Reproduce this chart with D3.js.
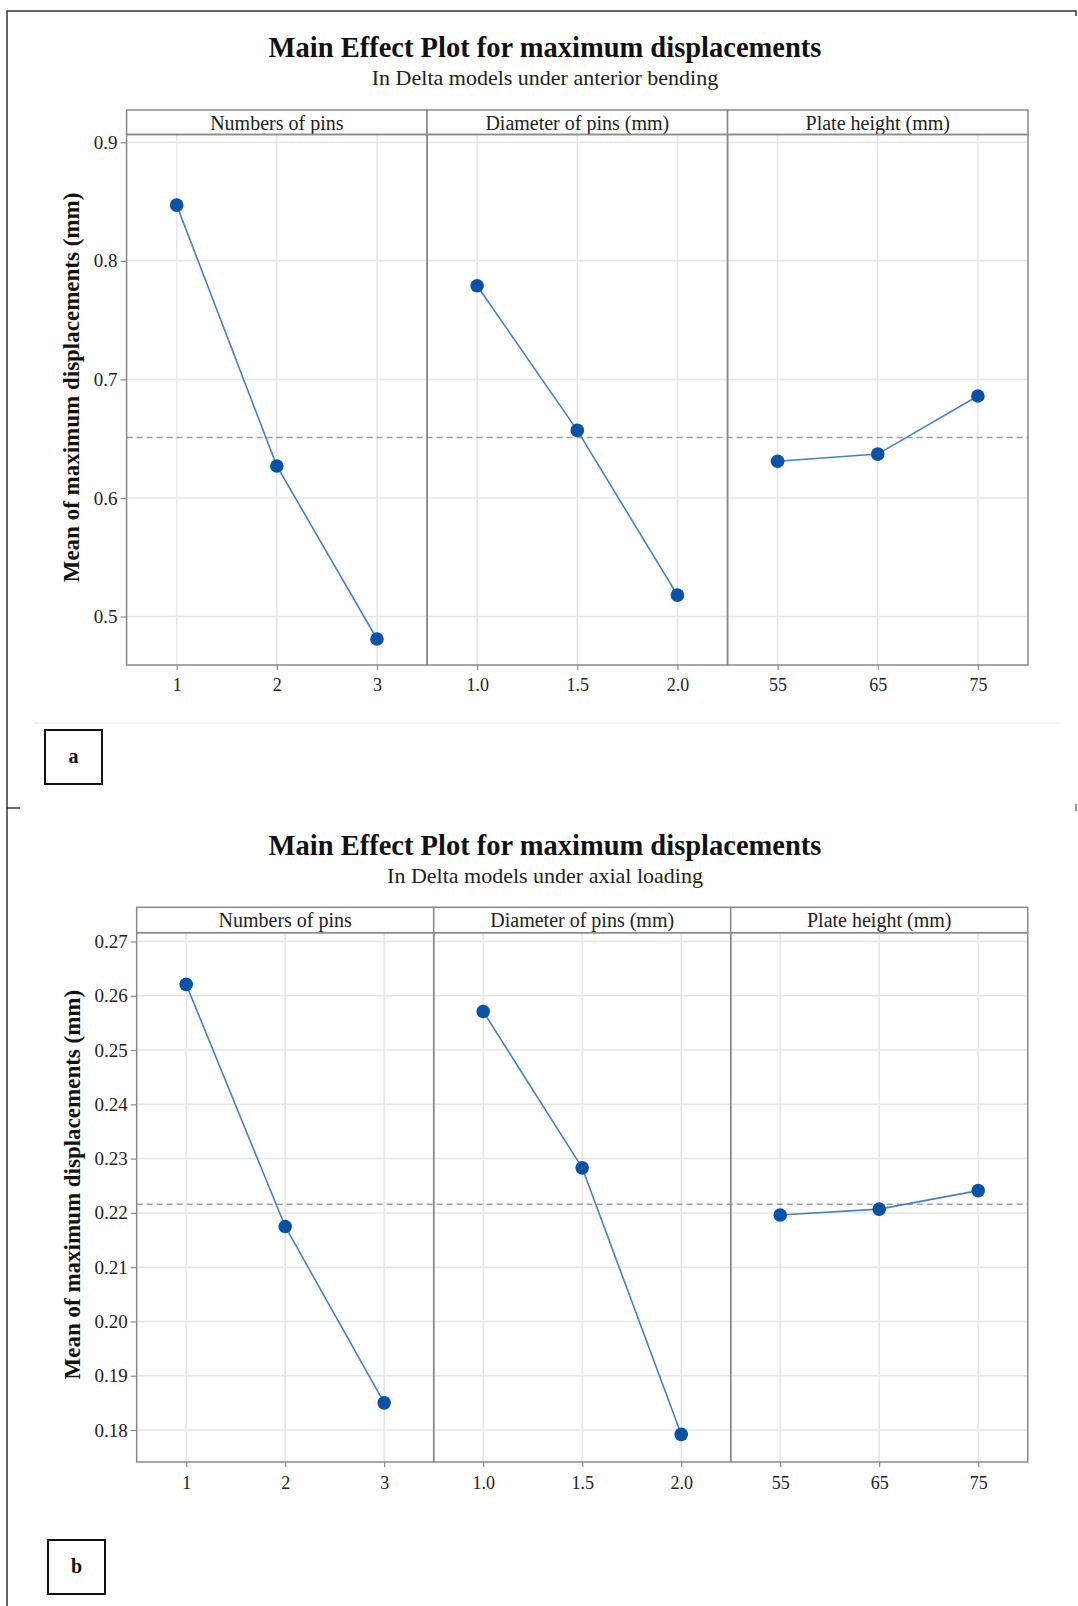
<!DOCTYPE html>
<html>
<head>
<meta charset="utf-8">
<script src="https://cdn.jsdelivr.net/npm/d3@7"></script>
<style>
body { margin: 0; background: #fff; }
svg text { font-family: "Liberation Serif", "Times New Roman", serif; fill: #222; }
</style>
</head>
<body>
<div id="vis"></div>
<script>
var factors = ["Numbers of pins", "Diameter of pins (mm)", "Plate height (mm)"];
var pinLevels = ["1", "2", "3"];
var diameterLevels = ["1.0", "1.5", "2.0"];
var heightLevels = ["55", "65", "75"];

// a: anterior bending
var bendPins = [0.847, 0.627, 0.481];
var bendDiameter = [0.779, 0.657, 0.518];
var bendHeight = [0.631, 0.637, 0.686];
var bendMean = 0.651;
var bendTicks = [0.5, 0.6, 0.7, 0.8, 0.9];

// b: axial loading
var axialPins = [0.2621, 0.2175, 0.1850];
var axialDiameter = [0.2571, 0.2283, 0.1792];
var axialHeight = [0.2196, 0.2207, 0.2241];
var axialMean = 0.2216;
var axialTicks = [0.18, 0.19, 0.20, 0.21, 0.22, 0.23, 0.24, 0.25, 0.26, 0.27];

var width = 1078,
    height = 1606;

var serif = "'Liberation Serif', 'Times New Roman', serif";

var dotColor = "#0a52a6",
    lineColor = "#4580c8",
    frameColor = "#8a8a8a",
    gridColor = "#e6e6e6";

var svg = d3.select("#vis")
    .append("svg")
    .attr("width", width)
    .attr("height", height);

// page frame around both figures
svg.append("path")
    .attr("d", "M7," + height + "V11H1076V16")
    .attr("fill", "none")
    .attr("stroke", "#333")
    .attr("stroke-width", 1.5);

svg.append("line")
    .attr("x1", 7).attr("x2", 20)
    .attr("y1", 808).attr("y2", 808)
    .attr("stroke", "#333")
    .attr("stroke-width", 1.5);

svg.append("line")
    .attr("x1", 1076).attr("x2", 1076)
    .attr("y1", 804).attr("y2", 811)
    .attr("stroke", "#333")
    .attr("stroke-width", 1);

// faint bottom edge of figure a
svg.append("line")
    .attr("x1", 34).attr("x2", 1060)
    .attr("y1", 723).attr("y2", 723)
    .attr("stroke", "#f1f1f1")
    .attr("stroke-width", 1.5);

function drawChart(c) {
    var g = svg.append("g");

    var panel = d3.scaleBand()
        .domain(factors)
        .range([c.left, c.right]);

    var y = d3.scaleLinear()
        .domain([c.ticks[0], c.ticks[c.ticks.length - 1]])
        .range([c.yLow, c.yHigh]);

    g.append("text")
        .attr("x", 545)
        .attr("y", c.titleY)
        .attr("text-anchor", "middle")
        .style("font-size", "28.5px")
        .style("font-weight", "bold")
        .style("fill", "#111")
        .text("Main Effect Plot for maximum displacements");

    g.append("text")
        .attr("x", 545)
        .attr("y", c.subY)
        .attr("text-anchor", "middle")
        .style("font-size", "22px")
        .text(c.subtitle);

    var levels = [pinLevels, diameterLevels, heightLevels];

    factors.forEach(function(f, i) {
        var x0 = panel(f),
            x1 = x0 + panel.bandwidth();

        var x = d3.scalePoint()
            .domain(levels[i])
            .range([x0, x1])
            .padding(0.5);

        var p = g.append("g");

        // grid
        p.selectAll(".hgrid")
            .data(c.ticks)
            .enter()
            .append("line")
            .attr("x1", x0)
            .attr("x2", x1)
            .attr("y1", function(d) { return y(d); })
            .attr("y2", function(d) { return y(d); })
            .attr("stroke", gridColor)
            .attr("stroke-width", 1.5);

        p.selectAll(".vgrid")
            .data(levels[i])
            .enter()
            .append("line")
            .attr("x1", function(d) { return x(d); })
            .attr("x2", function(d) { return x(d); })
            .attr("y1", c.plotTop)
            .attr("y2", c.bottom)
            .attr("stroke", gridColor)
            .attr("stroke-width", 1.5);

        // x axis
        var xa = p.append("g")
            .attr("transform", "translate(0," + c.bottom + ")")
            .call(d3.axisBottom(x).tickSize(5).tickPadding(c.xPad));
        xa.attr("font-size", 18).attr("font-family", serif);
        xa.select(".domain").remove();
        xa.selectAll("line").attr("stroke", frameColor).attr("stroke-width", 1.2);
        xa.selectAll("text")
            .style("font-size", "18px")
            .attr("fill", "#2a2a2a");

        // strip
        p.append("rect")
            .attr("x", x0)
            .attr("y", c.stripTop)
            .attr("width", panel.bandwidth())
            .attr("height", c.plotTop - c.stripTop)
            .attr("fill", "#fff")
            .attr("stroke", frameColor)
            .attr("stroke-width", 1.5);

        p.append("text")
            .attr("x", (x0 + x1) / 2)
            .attr("y", c.stripTop + 19.5)
            .attr("text-anchor", "middle")
            .style("font-size", "20px")
            .text(f);
    });

    // overall mean
    g.append("line")
        .attr("x1", c.left)
        .attr("x2", c.right)
        .attr("y1", y(c.mean))
        .attr("y2", y(c.mean))
        .attr("stroke", "#a0a0a0")
        .attr("stroke-width", 1.5)
        .attr("stroke-dasharray", "6,4");

    // panel borders
    factors.forEach(function(f) {
        g.append("rect")
            .attr("x", panel(f))
            .attr("y", c.plotTop)
            .attr("width", panel.bandwidth())
            .attr("height", c.bottom - c.plotTop)
            .attr("fill", "none")
            .attr("stroke", frameColor)
            .attr("stroke-width", 1.5);
    });

    // effects
    factors.forEach(function(f, i) {
        var x = d3.scalePoint()
            .domain(levels[i])
            .range([panel(f), panel(f) + panel.bandwidth()])
            .padding(0.5);

        var pts = levels[i].map(function(l, j) {
            return { level: l, value: c.values[i][j] };
        });

        g.append("path")
            .datum(pts)
            .attr("d", d3.line()
                .x(function(d) { return x(d.level); })
                .y(function(d) { return y(d.value); }))
            .attr("fill", "none")
            .attr("stroke", lineColor)
            .attr("stroke-width", 1.6);

        g.selectAll(".dot" + i)
            .data(pts)
            .enter()
            .append("circle")
            .attr("cx", function(d) { return x(d.level); })
            .attr("cy", function(d) { return y(d.value); })
            .attr("r", 6.8)
            .attr("fill", dotColor);
    });

    // y axis
    var ya = g.append("g")
        .attr("transform", "translate(" + c.left + ",0)")
        .call(d3.axisLeft(y)
            .tickValues(c.ticks)
            .tickFormat(d3.format(c.fmt))
            .tickSize(6)
            .tickPadding(3));
    ya.attr("font-size", 19).attr("font-family", serif);
    ya.select(".domain").remove();
    ya.selectAll("line").attr("stroke", frameColor).attr("stroke-width", 1.2);
    ya.selectAll("text")
        .style("font-size", "19px")
        .attr("fill", "#2a2a2a");

    g.append("text")
        .attr("transform", "translate(" + c.labelX + "," + ((c.stripTop + c.bottom) / 2) + ") rotate(-90)")
        .attr("text-anchor", "middle")
        .style("font-size", "23px")
        .style("font-weight", "bold")
        .style("fill", "#111")
        .text("Mean of maximum displacements (mm)");

    // figure tag
    g.append("rect")
        .attr("x", c.tag[0])
        .attr("y", c.tag[1])
        .attr("width", 57)
        .attr("height", 54)
        .attr("fill", "#fff")
        .attr("stroke", "#111")
        .attr("stroke-width", 2);

    g.append("text")
        .attr("x", c.tag[0] + 28.5)
        .attr("y", c.tag[1] + 33)
        .attr("text-anchor", "middle")
        .style("font-size", "20px")
        .style("font-weight", "bold")
        .style("fill", "#111")
        .text(c.tagText);
}

drawChart({
    subtitle: "In Delta models under anterior bending",
    titleY: 57,
    subY: 85,
    left: 126.6,
    right: 1028,
    stripTop: 110,
    plotTop: 134.5,
    bottom: 665,
    yLow: 616.5,
    yHigh: 142.3,
    ticks: bendTicks,
    fmt: ".1f",
    values: [bendPins, bendDiameter, bendHeight],
    mean: bendMean,
    xPad: 8,
    labelX: 79,
    tag: [45, 730],
    tagText: "a"
});

drawChart({
    subtitle: "In Delta models under axial loading",
    titleY: 855,
    subY: 883,
    left: 136.7,
    right: 1027.7,
    stripTop: 907.3,
    plotTop: 932.7,
    bottom: 1462,
    yLow: 1430,
    yHigh: 941.5,
    ticks: axialTicks,
    fmt: ".2f",
    values: [axialPins, axialDiameter, axialHeight],
    mean: axialMean,
    xPad: 9,
    labelX: 80,
    tag: [48, 1540],
    tagText: "b"
});
</script>
</body>
</html>
